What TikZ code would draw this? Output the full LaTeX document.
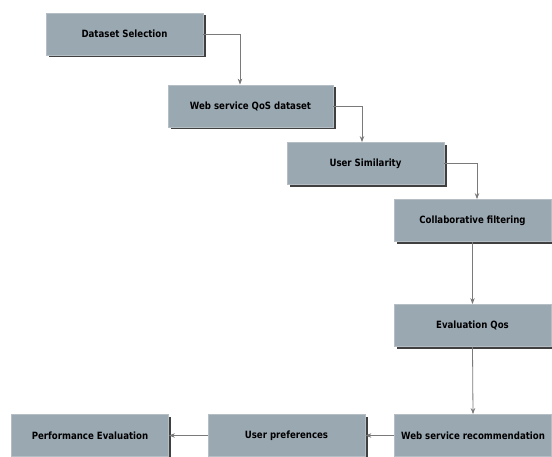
\documentclass[tikz,border=0pt]{standalone}
\usepackage{fontspec}
\setmainfont{DejaVu Sans}[FakeStretch=0.86]
\usetikzlibrary{arrows.meta,shadows}
\definecolor{boxfill}{HTML}{9AA8B2}
\definecolor{boxline}{HTML}{B4BEC4}
\definecolor{arrowcol}{HTML}{7A7A7A}
\tikzset{
  stagebox/.style={rectangle, fill=boxfill, draw=boxline, line width=0.8pt,
    minimum width=157pt, minimum height=42pt, inner sep=0pt,
    font=\bfseries\fontsize{10}{12}\selectfont,
    drop shadow={shadow xshift=2.5pt, shadow yshift=-2.5pt, fill=black!75, opacity=1}},
  link/.style={draw=arrowcol, line width=0.8pt, -{Stealth[length=6pt,width=4.5pt]}}
}
\begin{document}
\begin{tikzpicture}[x=1pt,y=-1pt]
\useasboundingbox (0,0) rectangle (552,457);
\node[stagebox] (b1) at (124.5,34) {Dataset Selection};
\node[stagebox, minimum width=165pt] (b2) at (250.5,106) {Web service QoS dataset};
\node[stagebox] (b3) at (365.5,163.5) {User Similarity};
\node[stagebox] (b4) at (472.5,220.5) {Collaborative filtering};
\node[stagebox] (b5) at (472.5,325.5) {Evaluation Qos};
\node[stagebox] (b6) at (473,435.5) {Web service recommendation};
\node[stagebox] (b7) at (286.5,435.5) {User preferences};
\node[stagebox] (b8) at (90,435.5) {Performance Evaluation};
\draw[link] (b1.east) -| ([xshift=-10.5pt]b2.north);
\draw[link] (b2.east) -| ([xshift=-3.5pt]b3.north);
\draw[link] (b3.east) -| ([xshift=4.5pt]b4.north);
\draw[link] (b4.south) -- (b5.north);
\draw[link] (b5.south) -- (b6.north);
\draw[link] (b6.west) -- (b7.east);
\draw[link] (b7.west) -- (b8.east);
\end{tikzpicture}
\end{document}
